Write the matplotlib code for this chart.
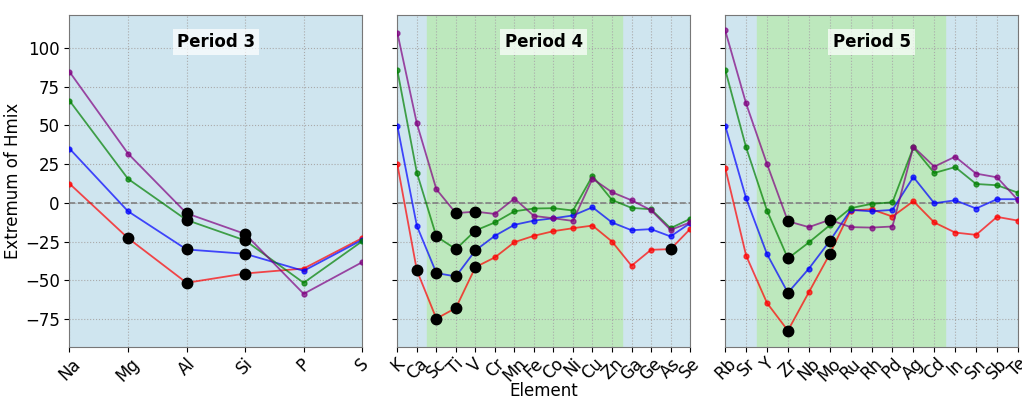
import matplotlib
matplotlib.use('Agg')
import matplotlib.pyplot as plt
import numpy as np

# element labels per period
elements_p3 = ['Na', 'Mg', 'Al', 'Si', 'P', 'S']
elements_p4 = ['K', 'Ca', 'Sc', 'Ti', 'V', 'Cr', 'Mn', 'Fe', 'Co', 'Ni', 'Cu', 'Zn', 'Ga', 'Ge', 'As', 'Se']
elements_p5 = ['Rb', 'Sr', 'Y', 'Zr', 'Nb', 'Mo', 'Ru', 'Rh', 'Pd', 'Ag', 'Cd', 'In', 'Sn', 'Sb', 'Te']

# series values (red, blue, green, purple)
red_p3 = [12.4, -22.7, -51.5, -45.5, -42.3, -22.7]
blue_p3 = [35.0, -5.4, -30.0, -32.8, -43.8, -23.8]
green_p3 = [65.9, 15.5, -11.0, -24.2, -51.5, -24.7]
purple_p3 = [84.5, 31.8, -6.7, -20.0, -58.6, -38.2]

red_p4 = [24.9, -43.5, -74.6, -67.7, -41.4, -35.1, -25.3, -21.2, -18.2, -16.3, -14.6, -24.9, -40.5, -30.2, -29.8, -16.9]
blue_p4 = [49.7, -14.8, -45.2, -47.4, -30.6, -21.2, -14.1, -11.4, -9.9, -8.1, -2.8, -12.6, -17.6, -16.9, -21.6, -13.1]
green_p4 = [85.5, 19.5, -21.6, -29.8, -17.8, -12.6, -5.4, -3.6, -3.4, -4.9, 17.4, 1.9, -3.2, -4.1, -16.3, -10.3]
purple_p4 = [109.7, 51.2, 8.8, -6.6, -5.6, -7.1, 2.8, -8.4, -9.9, -11.6, 15.6, 6.9, 1.7, -4.7, -17.4, -12.6]

red_p5 = [22.7, -33.9, -64.5, -82.3, -57.6, -33.0, -4.9, -4.1, -8.8, 1.1, -12.6, -19.1, -20.6, -9.0, -11.4]
blue_p5 = [49.9, 3.0, -33.0, -57.9, -42.4, -24.6, -4.5, -5.4, -4.5, 16.7, -0.2, 1.7, -3.6, 2.4, 2.4]
green_p5 = [85.9, 35.8, -4.9, -35.8, -25.5, -14.4, -3.4, -0.6, 0.4, 35.8, 19.3, 23.1, 12.2, 11.4, 6.6]
purple_p5 = [111.2, 64.1, 25.1, -11.8, -15.6, -10.9, -15.6, -15.9, -15.2, 36.2, 23.4, 29.8, 18.9, 16.5, 1.9]

# highlighted (black) points: element index per series
marks_p3 = {'red': [1, 2, 3], 'blue': [2, 3], 'green': [2, 3], 'purple': [2, 3]}
marks_p4 = {'red': [1, 2, 3, 4, 14], 'blue': [2, 3, 4], 'green': [2, 3, 4], 'purple': [3, 4]}
marks_p5 = {'red': [3, 5], 'blue': [3, 5], 'green': [3], 'purple': [3, 5]}

# transition-metal band (first, last element)
band_p4 = ('Sc', 'Zn')
band_p5 = ('Y', 'Cd')

panels = [
    ('Period 3', elements_p3, [red_p3, blue_p3, green_p3, purple_p3], marks_p3, None),
    ('Period 4', elements_p4, [red_p4, blue_p4, green_p4, purple_p4], marks_p4, band_p4),
    ('Period 5', elements_p5, [red_p5, blue_p5, green_p5, purple_p5], marks_p5, band_p5),
]
colors = ['red', 'blue', 'green', 'purple']

fig, axes = plt.subplots(1, 3, figsize=(10.22, 4.0), dpi=100, sharey=True)
fig.subplots_adjust(left=0.068, right=0.996, top=0.962, bottom=0.132, wspace=0.12)

for ax, (title, elems, series, marks, band) in zip(axes, panels):
    x = np.arange(len(elems))
    ax.set_facecolor('#cfe5ef')
    if band is not None:
        ax.axvspan(elems.index(band[0]) - 0.5, elems.index(band[1]) + 0.5,
                   color='#bde8bd', zorder=0)
    ax.axhline(0, color='gray', linestyle='--', linewidth=1.2, zorder=1)
    for vals, c in zip(series, colors):
        ax.plot(x, vals, '-o', color=c, markersize=3.5, linewidth=1.3, alpha=0.7, zorder=3)
        idx = marks[c]
        ax.plot(x[idx], np.array(vals)[idx], 'o', color='black', markersize=7.5, zorder=4)
    ax.set_xticks(x)
    ax.set_xticklabels(elems, rotation=45, fontsize=12)
    ax.tick_params(axis='x', pad=2)
    ax.set_xlim(0, len(elems) - 1)
    ax.grid(True, linestyle=':', color='#aaaaaa', linewidth=0.8)
    ax.set_axisbelow(True)
    ax.text(0.5, 0.92, title, transform=ax.transAxes, ha='center', va='center',
            fontsize=12, fontweight='bold',
            bbox=dict(facecolor='white', edgecolor='none', alpha=0.7, pad=3))
    for s in ax.spines.values():
        s.set_color('#777777')
    ax.tick_params(axis='y', labelsize=12)

axes[0].set_ylim(-93, 121)
axes[0].set_yticks([-75, -50, -25, 0, 25, 50, 75, 100])
axes[0].set_ylabel('Extremum of Hmix', fontsize=12, labelpad=2)
axes[1].set_xlabel('Element', fontsize=12, labelpad=-2)

plt.savefig('out.png', dpi=100)
plt.close()
